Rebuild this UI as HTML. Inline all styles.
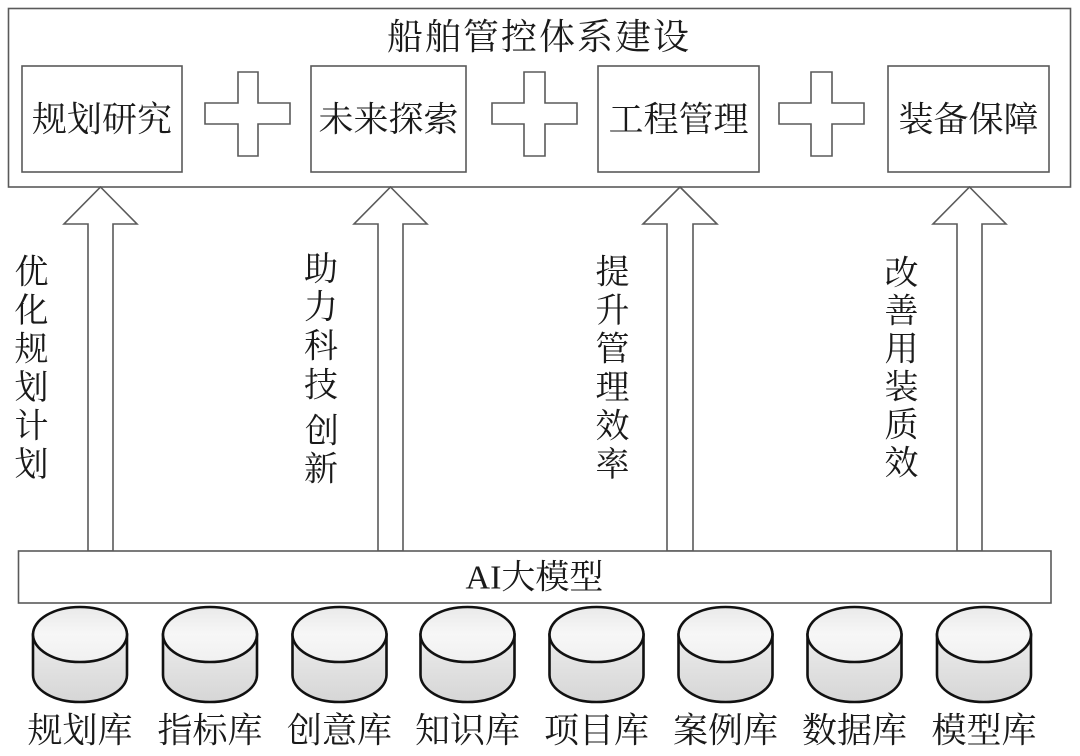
<!DOCTYPE html>
<html>
<head>
<meta charset="utf-8">
<style>
html,body{margin:0;padding:0;background:#fff;}
svg{display:block;}
text{font-family:"Liberation Serif","Noto Serif CJK SC",serif;fill:#1a1a1a;}
</style>
</head>
<body>
<svg width="1080" height="756" viewBox="0 0 1080 756" xmlns="http://www.w3.org/2000/svg">
<defs>
<linearGradient id="body" x1="0" y1="0" x2="0" y2="1">
<stop offset="0" stop-color="#ececec"/>
<stop offset="1" stop-color="#d6d6d6"/>
</linearGradient>
<linearGradient id="top" x1="0" y1="0" x2="0" y2="1">
<stop offset="0" stop-color="#e9e9e9"/>
<stop offset="0.5" stop-color="#f7f7f7"/>
<stop offset="1" stop-color="#f0f0f0"/>
</linearGradient>
</defs>

<!-- outer box -->
<rect x="8.5" y="8.5" width="1062" height="178.5" fill="#fff" stroke="#5a5a5a" stroke-width="1.6"/>
<text x="539" y="37" font-size="36" text-anchor="middle" dominant-baseline="central" letter-spacing="2">船舶管控体系建设</text>

<!-- inner boxes -->
<g fill="#fff" stroke="#5a5a5a" stroke-width="1.6">
<rect x="22" y="66" width="160" height="106"/>
<rect x="311" y="66" width="155" height="106"/>
<rect x="598" y="66" width="161" height="106"/>
<rect x="888" y="66" width="161" height="106"/>
</g>
<g font-size="35" text-anchor="middle" dominant-baseline="central">
<text x="102" y="120">规划研究</text>
<text x="388.5" y="120">未来探索</text>
<text x="678.5" y="120">工程管理</text>
<text x="968.5" y="120">装备保障</text>
</g>

<!-- plus signs -->
<g fill="#fff" stroke="#5a5a5a" stroke-width="1.6">
<path d="M238 72 H258 V103 H290 V124 H258 V156 H238 V124 H205 V103 H238 Z"/>
<path d="M524 72 H545 V103 H577 V124 H545 V156 H524 V124 H492 V103 H524 Z"/>
<path d="M811 72 H832 V103 H864 V124 H832 V156 H811 V124 H779 V103 H811 Z"/>
</g>

<!-- arrows -->
<g fill="#fff" stroke="#5a5a5a" stroke-width="1.6" stroke-linejoin="miter">
<path d="M100.5 187 L137 224 L113 224 L113 551 L88 551 L88 224 L64 224 Z"/>
<path d="M390.5 187 L427 224 L403 224 L403 551 L378 551 L378 224 L354 224 Z"/>
<path d="M680 187 L717 224 L693 224 L693 551 L667 551 L667 224 L643 224 Z"/>
<path d="M969.5 187 L1006 224 L982 224 L982 551 L957 551 L957 224 L933 224 Z"/>
</g>

<!-- vertical labels -->
<g font-size="34" text-anchor="middle" dominant-baseline="central">
<text x="31.5" y="273">优</text>
<text x="31.5" y="311.5">化</text>
<text x="31.5" y="350">规</text>
<text x="31.5" y="388.5">划</text>
<text x="31.5" y="427">计</text>
<text x="31.5" y="465.5">划</text>

<text x="321" y="270">助</text>
<text x="321" y="308">力</text>
<text x="321" y="347">科</text>
<text x="321" y="386">技</text>
<text x="322" y="432">创</text>
<text x="321" y="470">新</text>

<text x="612.5" y="273">提</text>
<text x="612.5" y="311.5">升</text>
<text x="612.5" y="350">管</text>
<text x="612.5" y="388.5">理</text>
<text x="612.5" y="427">效</text>
<text x="612.5" y="465.5">率</text>

<text x="901.5" y="274">改</text>
<text x="901.5" y="312">善</text>
<text x="901.5" y="350">用</text>
<text x="901.5" y="388">装</text>
<text x="901.5" y="426">质</text>
<text x="901.5" y="464">效</text>
</g>

<!-- AI box -->
<rect x="18.5" y="551" width="1032.5" height="52" fill="#fff" stroke="#5a5a5a" stroke-width="1.6"/>
<text x="534.5" y="578" font-size="34" text-anchor="middle" dominant-baseline="central">AI大模型</text>

<!-- cylinders -->
<g id="cyls" stroke="#111" stroke-width="2.6">
<g transform="translate(80,0)">
<path d="M-47 634.5 V675 A47 27 0 0 0 47 675 V634.5 Z" fill="url(#body)"/>
<ellipse cx="0" cy="634.5" rx="47" ry="27.5" fill="url(#top)"/>
</g>
<g transform="translate(210,0)">
<path d="M-47 634.5 V675 A47 27 0 0 0 47 675 V634.5 Z" fill="url(#body)"/>
<ellipse cx="0" cy="634.5" rx="47" ry="27.5" fill="url(#top)"/>
</g>
<g transform="translate(339.5,0)">
<path d="M-47 634.5 V675 A47 27 0 0 0 47 675 V634.5 Z" fill="url(#body)"/>
<ellipse cx="0" cy="634.5" rx="47" ry="27.5" fill="url(#top)"/>
</g>
<g transform="translate(467.5,0)">
<path d="M-47 634.5 V675 A47 27 0 0 0 47 675 V634.5 Z" fill="url(#body)"/>
<ellipse cx="0" cy="634.5" rx="47" ry="27.5" fill="url(#top)"/>
</g>
<g transform="translate(596.5,0)">
<path d="M-47 634.5 V675 A47 27 0 0 0 47 675 V634.5 Z" fill="url(#body)"/>
<ellipse cx="0" cy="634.5" rx="47" ry="27.5" fill="url(#top)"/>
</g>
<g transform="translate(725.5,0)">
<path d="M-47 634.5 V675 A47 27 0 0 0 47 675 V634.5 Z" fill="url(#body)"/>
<ellipse cx="0" cy="634.5" rx="47" ry="27.5" fill="url(#top)"/>
</g>
<g transform="translate(854.5,0)">
<path d="M-47 634.5 V675 A47 27 0 0 0 47 675 V634.5 Z" fill="url(#body)"/>
<ellipse cx="0" cy="634.5" rx="47" ry="27.5" fill="url(#top)"/>
</g>
<g transform="translate(984,0)">
<path d="M-47 634.5 V675 A47 27 0 0 0 47 675 V634.5 Z" fill="url(#body)"/>
<ellipse cx="0" cy="634.5" rx="47" ry="27.5" fill="url(#top)"/>
</g>
</g>

<!-- cylinder labels -->
<g font-size="35" text-anchor="middle" dominant-baseline="central">
<text x="80" y="731">规划库</text>
<text x="210" y="731">指标库</text>
<text x="339.5" y="731">创意库</text>
<text x="467.5" y="731">知识库</text>
<text x="596.5" y="731">项目库</text>
<text x="725.5" y="731">案例库</text>
<text x="854.5" y="731">数据库</text>
<text x="984" y="731">模型库</text>
</g>
</svg>
</body>
</html>
